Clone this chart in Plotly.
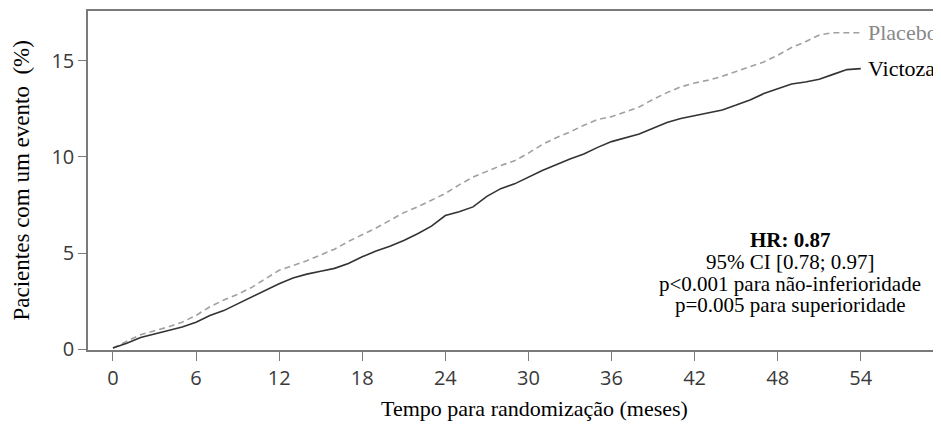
import plotly.graph_objects as go

months = list(range(0, 55))

victoza = [0.05, 0.3, 0.6, 0.78, 0.95, 1.15, 1.4, 1.75, 2.0, 2.35,
           2.7, 3.05, 3.4, 3.7, 3.9, 4.05, 4.2, 4.45, 4.8, 5.1,
           5.35, 5.65, 6.0, 6.4, 6.95, 7.15, 7.4, 7.95, 8.35, 8.6,
           8.95, 9.3, 9.6, 9.9, 10.15, 10.5, 10.8, 11.0, 11.2, 11.5,
           11.8, 12.0, 12.15, 12.3, 12.45, 12.7, 12.97, 13.3, 13.55, 13.8,
           13.9, 14.05, 14.3, 14.55, 14.6]

placebo = [0.05, 0.4, 0.75, 0.95, 1.15, 1.4, 1.75, 2.2, 2.55, 2.85,
           3.2, 3.65, 4.1, 4.35, 4.6, 4.9, 5.2, 5.6, 5.95, 6.3,
           6.7, 7.1, 7.4, 7.75, 8.1, 8.55, 8.95, 9.25, 9.55, 9.8,
           10.2, 10.65, 11.0, 11.3, 11.65, 11.95, 12.1, 12.35, 12.6, 13.0,
           13.35, 13.65, 13.85, 14.0, 14.2, 14.45, 14.7, 14.95, 15.3, 15.7,
           16.0, 16.35, 16.47, 16.47, 16.47]

x_ticks = [0, 6, 12, 18, 24, 30, 36, 42, 48, 54]
y_ticks = [0, 5, 10, 15]

series_names = ["Placebo", "Victoza"]
stats_lines = ["<b>HR: 0.87</b>", "95% CI [0.78; 0.97]",
               "p&lt;0.001 para não-inferioridade", "p=0.005 para superioridade"]
stats_y = [5.68, 4.53, 3.39, 2.29]

SERIF = "Liberation Serif, Times New Roman, serif"
SANS = "Open Sans, Noto Sans, sans-serif"
AX = "#7a7a7a"

fig = go.Figure()
fig.add_trace(go.Scatter(x=months, y=placebo, mode="lines", name=series_names[0],
                         line=dict(color="#a0a0a0", width=1.6, dash="6px,4px"),
                         showlegend=False))
fig.add_trace(go.Scatter(x=months, y=victoza, mode="lines", name=series_names[1],
                         line=dict(color="#333333", width=1.6),
                         showlegend=False))

fig.add_annotation(x=54.4, y=placebo[-1], text=series_names[0], showarrow=False,
                   xanchor="left", yanchor="middle",
                   font=dict(family=SERIF, size=22, color="#888888"))
fig.add_annotation(x=54.4, y=victoza[-1], text=series_names[1], showarrow=False,
                   xanchor="left", yanchor="middle",
                   font=dict(family=SERIF, size=22, color="#000000"))

for line, yy in zip(stats_lines, stats_y):
    fig.add_annotation(x=48.9, y=yy, text=line, showarrow=False,
                       xanchor="center", yanchor="middle", align="center",
                       font=dict(family=SERIF, size=21, color="#000000"))

fig.add_annotation(xref="paper", yref="paper", x=0.524, y=-0.174,
                   text="Tempo para randomização (meses)", showarrow=False,
                   xanchor="center", yanchor="middle",
                   font=dict(family=SERIF, size=22, color="#000000"))
fig.add_annotation(xref="paper", yref="paper", x=-0.0774, y=0.5,
                   text="Pacientes com um evento \u00a0(%)", showarrow=False,
                   textangle=-90, xanchor="center", yanchor="middle",
                   font=dict(family=SERIF, size=23, color="#000000"))

fig.update_layout(
    width=933, height=420,
    margin=dict(l=80, r=0, t=3, b=78),
    plot_bgcolor="white", paper_bgcolor="white",
    xaxis=dict(range=[-1.8, 59.79], tickvals=x_ticks, ticks="outside", ticklen=9,
               tickcolor=AX, tickwidth=1.3, showline=True, linecolor=AX, linewidth=1.5,
               mirror=True, showgrid=False, zeroline=False,
               tickfont=dict(family=SANS, size=20, color="#3a3a3a")),
    yaxis=dict(range=[-0.05, 17.6], tickvals=y_ticks, ticks="outside", ticklen=8,
               tickcolor=AX, tickwidth=1.3, showline=True, linecolor=AX, linewidth=1.5,
               showgrid=False, zeroline=False,
               tickfont=dict(family=SANS, size=20, color="#3a3a3a")),
)

fig.write_html("out.html")
